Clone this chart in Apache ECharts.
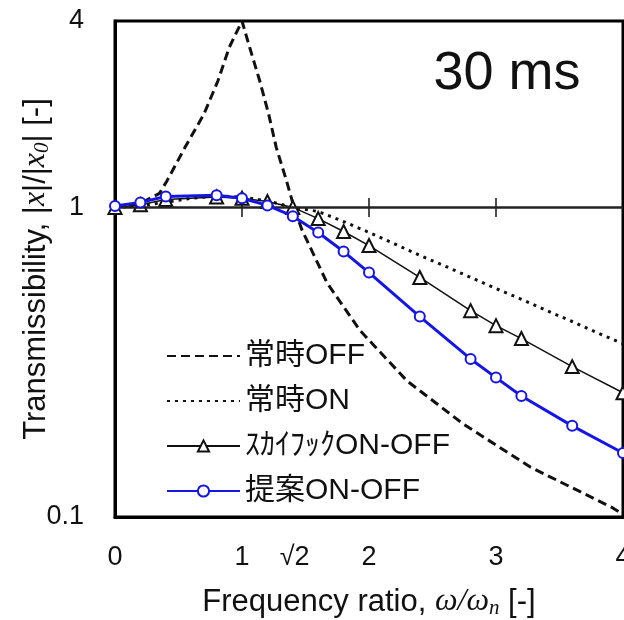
<!DOCTYPE html>
<html>
<head>
<meta charset="utf-8">
<script src="https://cdn.jsdelivr.net/npm/echarts@6/dist/echarts.min.js"></script>
<style>html,body{margin:0;padding:0;background:#fff;}#c{width:624px;height:620px;}</style>
</head>
<body>
<div id="c"></div>
<script>
// ---- data ----
const seriesNames = ['常時OFF', '常時ON', 'ｽｶｲﾌｯｸON-OFF', '提案ON-OFF'];

const offX = [0, 0.2, 0.35, 0.41, 0.55, 0.7, 0.81, 0.9, 1.0, 1.06, 1.14, 1.21, 1.27, 1.35, 1.41, 1.47, 1.67, 1.93, 2.3, 2.74, 3.27, 3.92, 4.0];
const offY = [1.0, 1.03, 1.11, 1.22, 1.56, 2.0, 2.56, 3.29, 4.0, 3.29, 2.56, 2.0, 1.56, 1.22, 1.0, 0.85, 0.57, 0.40, 0.275, 0.20, 0.145, 0.107, 0.102];

const onX = [0, 0.2, 0.4, 0.6, 0.8, 1.0, 1.2, 1.4, 1.6, 1.8, 2.0, 2.2, 2.4, 2.6, 2.8, 3.0, 3.2, 3.4, 3.6, 3.8, 4.0];
const onY = [1.0, 1.01, 1.04, 1.07, 1.09, 1.08, 1.05, 1.0, 0.97, 0.9, 0.83, 0.763, 0.70, 0.646, 0.594, 0.547, 0.505, 0.464, 0.428, 0.393, 0.363];

const skyX = [0, 0.2, 0.4, 0.8, 1.0, 1.2, 1.4, 1.6, 1.8, 2.0, 2.4, 2.8, 3.0, 3.2, 3.6, 4.0];
const skyY = [1.0, 1.02, 1.06, 1.08, 1.07, 1.045, 1.0, 0.92, 0.836, 0.753, 0.594, 0.464, 0.415, 0.377, 0.306, 0.252];

const propX = [0, 0.2, 0.4, 0.8, 1.0, 1.2, 1.4, 1.6, 1.8, 2.0, 2.4, 2.8, 3.0, 3.2, 3.6, 4.0];
const propY = [1.01, 1.038, 1.085, 1.094, 1.07, 1.015, 0.937, 0.83, 0.72, 0.616, 0.444, 0.324, 0.282, 0.246, 0.197, 0.161];

const xTickValues = [0, 1, Math.SQRT2, 2, 3, 4];
const xTickLabels = ['0', '1', '√2', '2', '3', '4'];
const yTickValues = [0.1, 1, 4];
const yTickLabels = ['0.1', '1', '4'];
const refLineTicksX = [1, 2, 3];
const refLineY = 1;
const annotation = '30 ms';

// ---- chart ----
const pair = (xs, ys) => xs.map((x, i) => [x, ys[i]]);
const FONT = '"Liberation Sans", Arial, "Noto Sans CJK JP", sans-serif';
const SERIF = '"Liberation Serif", "Times New Roman", serif';
const BLUE = '#1616e4';

const richMath = {
  i: {fontSize: 32, fontStyle: 'italic', fontFamily: SERIF, color: '#111'},
  s: {fontSize: 21, fontStyle: 'italic', fontFamily: SERIF, color: '#111', padding: [13, 0, 0, 0]}
};

const chart = echarts.init(document.getElementById('c'), null, {renderer: 'canvas'});
chart.setOption({
  animation: false,
  backgroundColor: '#fff',
  textStyle: {fontFamily: FONT},
  grid: {left: 115, right: 1, top: 21, bottom: 103, show: true, borderColor: '#000', borderWidth: 3, outerBoundsMode: 'none', containLabel: false},
  xAxis: {
    type: 'value', min: 0, max: 4, interval: 1,
    axisLine: {onZero: false, lineStyle: {color: '#000', width: 3}},
    axisTick: {show: false},
    splitLine: {show: false},
    axisLabel: {
      customValues: xTickValues,
      margin: 27, fontSize: 27, color: '#111', fontFamily: FONT,
      formatter: v => { const i = xTickValues.findIndex(t => Math.abs(t - v) < 1e-6); return i >= 0 ? xTickLabels[i] : ''; }
    },
    name: 'Frequency ratio, {i|ω/ω}{s|n} [-]',
    nameLocation: 'middle', nameGap: 68, nameMoveOverlap: false,
    nameTextStyle: {fontSize: 31, color: '#111', fontFamily: FONT, rich: richMath}
  },
  yAxis: {
    type: 'log', logBase: 10, min: 0.1, max: 4,
    axisLine: {lineStyle: {color: '#000', width: 3}},
    axisTick: {show: false},
    minorTick: {show: false},
    splitLine: {show: false},
    axisLabel: {
      margin: 31, fontSize: 27, color: '#111', fontFamily: FONT,
      formatter: v => { const i = yTickValues.findIndex(t => Math.abs(t - v) / t < 1e-3); return i >= 0 ? yTickLabels[i] : ''; }
    },
    name: 'Transmissibility, |{i|x}|/|{i|x}{s|0}| [-]',
    nameLocation: 'middle', nameGap: 62, nameRotate: 90, nameMoveOverlap: false,
    nameTextStyle: {fontSize: 31, color: '#111', fontFamily: FONT, rich: richMath}
  },
  legend: {
    data: [
      {name: seriesNames[0], itemStyle: {opacity: 0}},
      {name: seriesNames[1], itemStyle: {opacity: 0}},
      {name: seriesNames[2]},
      {name: seriesNames[3]}
    ],
    orient: 'vertical', left: 161, top: 336,
    itemWidth: 73, itemHeight: 14, itemGap: 15,
    backgroundColor: 'transparent',
    textStyle: {fontSize: 30, color: '#111', fontFamily: FONT, lineHeight: 30},
    selectedMode: false
  },
  graphic: [{
    type: 'text', x: 507, y: 74, silent: true,
    style: {text: annotation, fontSize: 54, fontFamily: FONT, fill: '#111', align: 'center', verticalAlign: 'middle'}
  }],
  series: [
    {
      name: 'refline', type: 'scatter', silent: true, z: 1,
      data: refLineTicksX.map(x => [x, refLineY]),
      symbol: 'rect', symbolSize: [2, 19],
      itemStyle: {color: '#222'},
      markLine: {
        silent: true, symbol: 'none', label: {show: false},
        lineStyle: {type: 'solid', color: '#222', width: 2.5},
        data: [{yAxis: refLineY}]
      }
    },
    {
      name: seriesNames[0], type: 'line', data: pair(offX, offY),
      showSymbol: false, symbol: 'none',
      lineStyle: {color: '#111', width: 3, type: [9, 5]},
      itemStyle: {color: '#111'}, z: 3
    },
    {
      name: seriesNames[1], type: 'line', data: pair(onX, onY),
      showSymbol: false, symbol: 'none',
      lineStyle: {color: '#111', width: 3, type: [3, 5]},
      itemStyle: {color: '#111'}, z: 3
    },
    {
      name: seriesNames[2], type: 'line', data: pair(skyX, skyY),
      symbol: 'emptyTriangle', symbolSize: 13,
      lineStyle: {color: '#111', width: 1.5},
      itemStyle: {color: '#111', borderWidth: 2}, z: 4
    },
    {
      name: seriesNames[3], type: 'line', data: pair(propX, propY),
      symbol: 'emptyCircle', symbolSize: 10,
      lineStyle: {color: BLUE, width: 3},
      itemStyle: {color: BLUE, borderWidth: 2.5}, z: 5
    }
  ]
});
</script>
</body>
</html>
